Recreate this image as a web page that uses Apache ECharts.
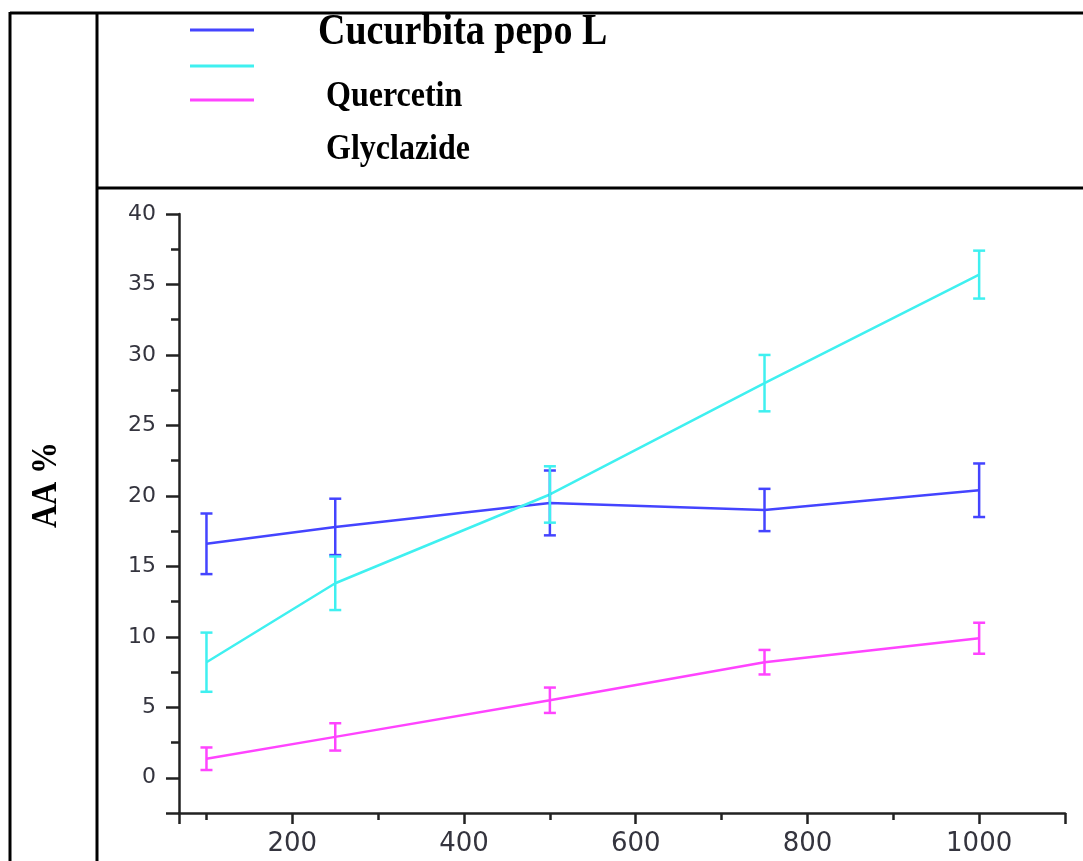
<!DOCTYPE html>
<html>
<head>
<meta charset="utf-8">
<script src="https://cdn.jsdelivr.net/npm/echarts@6/dist/echarts.min.js"></script>
<style>
  html, body { margin: 0; padding: 0; background: #fff; }
  #chart { width: 1083px; height: 861px; }
</style>
</head>
<body>
<div id="chart"></div>
<script>
  // doses (x) and AA % values
  var doses = [100, 250, 500, 750, 1000]
  var cucurbita = [16.6, 17.8, 19.5, 19.0, 20.4]
  var cucurbitaErr = [2.15, 2.0, 2.3, 1.5, 1.9]
  var quercetin = [8.2, 13.8, 20.1, 28.0, 35.7]
  var quercetinErr = [2.1, 1.9, 2.0, 2.0, 1.7]
  var glyclazide = [1.35, 2.9, 5.5, 8.2, 9.9]
  var glyclazideErr = [0.8, 0.97, 0.9, 0.87, 1.1]
  var names = ['Cucurbita pepo L', 'Quercetin', 'Glyclazide']
  var colors = ['#4444ff', '#3ff0f0', '#ff44ff']

  function pairs (vals) {
    return doses.map(function (d, i) { return [d, vals[i]] })
  }
  function bars (vals, errs) {
    return doses.map(function (d, i) { return [d, vals[i] - errs[i], vals[i] + errs[i]] })
  }

  function errorBar (color) {
    return function (params, api) {
      var x = api.value(0)
      var lo = api.coord([x, api.value(1)])
      var hi = api.coord([x, api.value(2)])
      var hw = 6
      var st = { stroke: color, lineWidth: 2.5 }
      return {
        type: 'group',
        children: [
          { type: 'line', shape: { x1: lo[0], y1: lo[1], x2: hi[0], y2: hi[1] }, style: st },
          { type: 'line', shape: { x1: lo[0] - hw, y1: lo[1], x2: lo[0] + hw, y2: lo[1] }, style: st },
          { type: 'line', shape: { x1: hi[0] - hw, y1: hi[1], x2: hi[0] + hw, y2: hi[1] }, style: st }
        ]
      }
    }
  }

  var allVals = [cucurbita, quercetin, glyclazide]
  var allErrs = [cucurbitaErr, quercetinErr, glyclazideErr]
  var series = []
  allVals.forEach(function (vals, k) {
    series.push({
      name: names[k],
      type: 'line',
      data: pairs(vals),
      symbol: 'none',
      lineStyle: { color: colors[k], width: 2.5 },
      z: 3
    })
    series.push({
      name: names[k],
      type: 'custom',
      data: bars(vals, allErrs[k]),
      encode: { x: 0, y: [1, 2] },
      renderItem: errorBar(colors[k]),
      z: 4
    })
  })

  var axisColor = '#222'
  var labelColor = '#34343e'
  var frame = { stroke: '#000', lineWidth: 3 }
  var chart = echarts.init(document.getElementById('chart'))
  chart.setOption({
    animation: false,
    backgroundColor: '#fff',
    grid: { left: 179, right: 18, top: 214, bottom: 48 },
    xAxis: {
      type: 'value',
      min: 68,
      max: 1100,
      splitLine: { show: false },
      axisLine: { onZero: false, lineStyle: { color: axisColor, width: 2.5 } },
      axisTick: { length: 11, lineStyle: { color: axisColor, width: 2.5 } },
      minorTick: { show: true, splitNumber: 2, length: 7, lineStyle: { color: axisColor, width: 2.5 } },
      axisLabel: {
        margin: 18,
        color: labelColor,
        fontFamily: 'DejaVu Sans',
        fontSize: 26,
        formatter: function (v) { return v % 200 === 0 ? String(v) : '' }
      }
    },
    yAxis: {
      type: 'value',
      min: -2.5,
      max: 40,
      splitNumber: 8,
      splitLine: { show: false },
      axisLine: { show: true, onZero: false, lineStyle: { color: axisColor, width: 2.5 } },
      axisTick: { show: true, length: 13, lineStyle: { color: axisColor, width: 2.5 } },
      minorTick: { show: true, splitNumber: 2, length: 8, lineStyle: { color: axisColor, width: 2.5 } },
      axisLabel: {
        margin: 23,
        color: labelColor,
        fontFamily: 'DejaVu Sans',
        fontSize: 22,
        formatter: function (v) { return v % 5 === 0 ? String(v) : '' }
      }
    },
    graphic: [
      { type: 'line', shape: { x1: 10, y1: 13, x2: 1083, y2: 13 }, style: frame },
      { type: 'line', shape: { x1: 10, y1: 12, x2: 10, y2: 861 }, style: frame },
      { type: 'line', shape: { x1: 97, y1: 12, x2: 97, y2: 861 }, style: frame },
      { type: 'line', shape: { x1: 97, y1: 188, x2: 1083, y2: 188 }, style: frame },
      // legend block (kept as in the figure)
      { type: 'line', shape: { x1: 190, y1: 30, x2: 254, y2: 30 }, style: { stroke: colors[0], lineWidth: 3 } },
      { type: 'line', shape: { x1: 190, y1: 66, x2: 254, y2: 66 }, style: { stroke: colors[1], lineWidth: 3 } },
      { type: 'line', shape: { x1: 190, y1: 100, x2: 254, y2: 100 }, style: { stroke: colors[2], lineWidth: 3 } },
      { type: 'text', x: 318, y: 33, scaleY: 1.15, style: { text: names[0], fill: '#000', font: 'bold 38px "Liberation Serif"', textVerticalAlign: 'middle' } },
      { type: 'text', x: 326, y: 96, scaleY: 1.15, style: { text: names[1], fill: '#000', font: 'bold 32px "Liberation Serif"', textVerticalAlign: 'middle' } },
      { type: 'text', x: 326, y: 149, scaleY: 1.15, style: { text: names[2], fill: '#000', font: 'bold 32px "Liberation Serif"', textVerticalAlign: 'middle' } },
      { type: 'text', x: 47, y: 485, rotation: Math.PI / 2, scaleY: 1.1, style: { text: 'AA %', fill: '#000', font: 'bold 32px "Liberation Serif"', textAlign: 'center', textVerticalAlign: 'middle' } }
    ],
    series: series
  })
</script>
</body>
</html>
